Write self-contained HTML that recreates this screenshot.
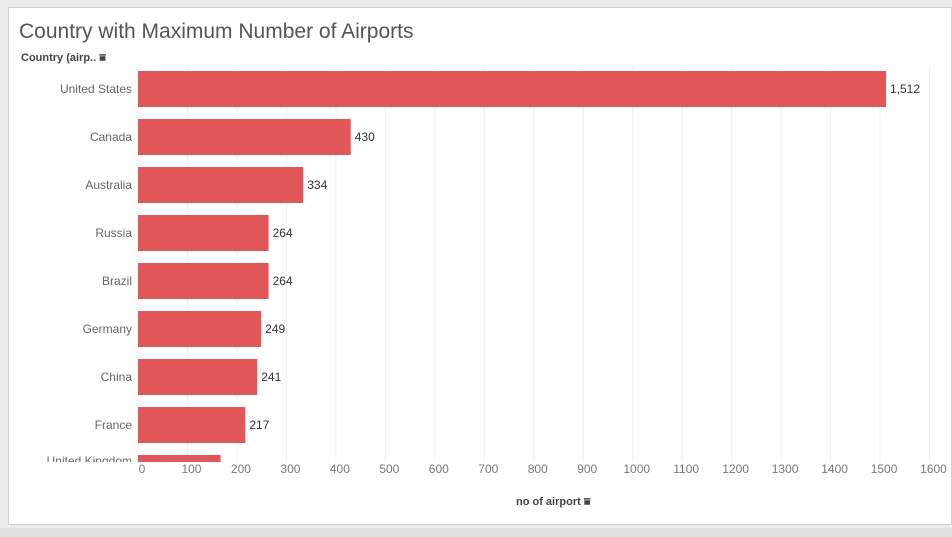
<!DOCTYPE html>
<html><head><meta charset="utf-8"><style>
body{margin:0;width:952px;height:537px;background:#ececec;overflow:hidden;font-family:"Liberation Sans",sans-serif;}
#panel{position:absolute;left:8px;top:7px;width:944px;height:518px;background:#fff;border:1px solid #cfcfcf;box-sizing:border-box;}
#title{position:absolute;left:19px;top:20px;font-size:21px;color:#555;}
#bottom{position:absolute;left:0;top:528px;width:952px;height:9px;background:#e0e0e0;}
</style></head><body>
<div id="panel"></div>
<div id="title">Country with Maximum Number of Airports</div>
<div id="bottom"></div>
<svg id="chart" width="952" height="537" style="position:absolute;left:0;top:0"></svg>
<script>
const categories=["United States","Canada","Australia","Russia","Brazil","Germany","China","France","United Kingdom"];
const values=[1512,430,334,264,264,249,241,217,167];
const labels=["1,512","430","334","264","264","249","241","217",""];
const ticks=[0,100,200,300,400,500,600,700,800,900,1000,1100,1200,1300,1400,1500,1600];
const NS="http://www.w3.org/2000/svg";
const svg=document.getElementById('chart');
const x=v=>138+v*0.4947;
const yc=i=>89+i*48;
function mk(t,a,txt){const e=document.createElementNS(NS,t);for(const k in a)e.setAttribute(k,a[k]);if(txt!==undefined)e.textContent=txt;svg.appendChild(e);return e;}
const clip=document.createElementNS(NS,'clipPath');clip.setAttribute('id','c');
const cr=document.createElementNS(NS,'rect');cr.setAttribute('x',0);cr.setAttribute('y',66);cr.setAttribute('width',952);cr.setAttribute('height',396);clip.appendChild(cr);svg.appendChild(clip);
ticks.forEach(t=>{
 const g=mk('line',{x1:x(t),x2:x(t),y1:66,y2:462,stroke:'#f0f0f0','stroke-width':1});
 
 
 const l=mk('text',{x:x(t)+4,y:473,'font-size':12,fill:'#777','text-anchor':'middle'},t);
 
 
});
categories.forEach((c,i)=>{
 const r=mk('rect',{x:x(0),y:yc(i)-18,width:x(values[i])-x(0),height:36,fill:'#e05659','clip-path':'url(#c)'});
 
 
 const t=mk('text',{x:132,y:Math.min(yc(i)+4,465),'font-size':12,fill:'#666','text-anchor':'end','clip-path':'url(#c)'},c);
 
 
 if(labels[i]){const v=mk('text',{x:x(values[i])+4,y:yc(i)+4,'font-size':12,fill:'#333'},labels[i]);
 
 }
});
const yt=mk('text',{x:21,y:61,'font-size':11,'font-weight':'bold',fill:'#444'},'Country (airp.. ⩸');


const xt=mk('text',{x:516,y:505,'font-size':11,'font-weight':'bold',fill:'#444'},'no of airport ⩸');


</script>
</body></html>
